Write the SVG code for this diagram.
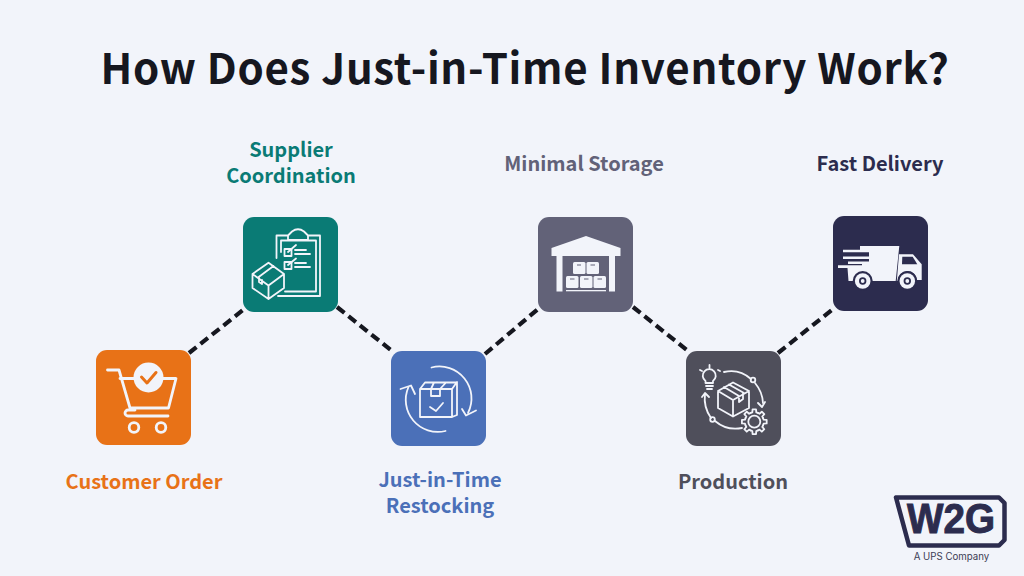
<svg xmlns="http://www.w3.org/2000/svg" width="1024" height="576" viewBox="0 0 1024 576">
<style>
text{font-family:"Noto Sans CJK SC","Noto Sans",sans-serif;font-weight:700;text-anchor:middle}
.lb{font-size:20px}
.box{rx:11px}
.s{fill:none;stroke:#f2f4fa;stroke-width:1.800;stroke-linecap:round;stroke-linejoin:round}
.t{stroke-width:2.800}
.f{fill:#f2f4fa}
.c{fill:none;stroke:#16171f;stroke-width:4.200;stroke-dasharray:9.500 5.200}
</style>
<defs>
<path id="tooth" class="s" d="M-3.640-8.780L-1.980-9.290L-1.740-12.380H1.740L1.980-9.290L3.640-8.780"/>
</defs>
<rect width="1024" height="576" fill="#f2f4fa"/>
<text id="title" x="525" y="83.500" font-size="42" letter-spacing=".7" fill="#16171f">How Does Just-in-Time Inventory Work?</text>
<g id="connectors">
<path class="c" d="M189 353L243 310"/>
<path class="c" d="M337 307L392 351"/>
<path class="c" d="M485 354L538 309"/>
<path class="c" d="M633 307L688 351"/>
<path class="c" d="M778 353L833 309"/>
</g>
<g id="customer-order">
<rect class="box" x="96" y="350" width="95" height="95" fill="#e87217"/>
<path class="s t" d="M107.500 370H119L130 408H168.500L176 378.500H120"/>
<path class="s t" d="M168 416H128a3 3 0 0 1 0-6H135"/>
<circle class="s t" cx="134" cy="427.500" r="4.800"/><circle class="s t" cx="161" cy="427.500" r="4.800"/>
<circle class="f" cx="148.500" cy="377.500" r="15"/>
<path fill="none" stroke="#e87217" stroke-width="3" stroke-linecap="round" stroke-linejoin="round" d="M141.500 377L147 383L156 372.500"/>
<text class="lb" x="144" y="489" fill="#e87217">Customer Order</text>
</g>
<g id="supplier-coordination">
<rect class="box" x="243" y="217" width="95" height="95" fill="#0a7b75"/>
<path class="s" d="M276.500 258V235.500H288L292 231.500Q298 227 304 231.500L308 235.500H320V296H278"/>
<path class="s" d="M281 252V240.500H316V291.500H285"/>
<path class="s" d="M288 236V240H308V236"/>
<rect class="s" x="284.500" y="249" width="7" height="7"/><rect class="s" x="284.500" y="262" width="7" height="7"/>
<path class="s" d="M288 252L296 245M288 265L296 258.500M295 250H306M295 254H310M295 263H306M295 267H310"/>
<path class="s" d="M252.500 274L268.500 262.700L284 274V288L268.500 299L252.500 288ZM252.500 274L268.500 285.500L284 274M268.500 285.500V299M258 277.500L273.500 266M262 280V284L259 282V278"/>
<text class="lb" x="291" y="157" fill="#0a7b75">Supplier</text>
<text class="lb" x="291" y="183" fill="#0a7b75">Coordination</text>
</g>
<g id="just-in-time-restocking">
<rect class="box" x="391" y="351" width="95" height="95" fill="#4b70b8"/>
<path class="s" d="M431.500 367.500A32 32 0 0 1 468 413M445.500 431A32 32 0 0 1 408.500 387"/>
<path class="s" d="M462 409L466 415.500L476 410.500M400.500 389L411 385.500L415 394"/>
<path class="s" d="M420 389H452L457 382V415L452 417H420ZM420 389L425 382.500H457M452 389V417M431 389V396H440V389M434 382.500L431 389M446 382.500L440 389"/>
<path class="s" d="M430 407L436 411L443 403" stroke-width="2"/>
<text class="lb" x="440" y="487" fill="#4b70b8">Just-in-Time</text>
<text class="lb" x="440" y="513" fill="#4b70b8">Restocking</text>
</g>
<g id="minimal-storage">
<rect class="box" x="538" y="217" width="95" height="95" fill="#626278"/>
<path class="f" d="M551.500 248L586 236L620.500 248V256H615V291.500H609V256H562.500V291.500H556.500V256H551.500Z"/>
<g class="f">
<rect x="573" y="262" width="12.500" height="12" rx="1.500"/><rect x="586.500" y="262" width="12.500" height="12" rx="1.500"/>
<rect x="566" y="276" width="12.500" height="12" rx="1.500"/><rect x="580" y="276" width="12.500" height="12" rx="1.500"/><rect x="593.500" y="276" width="12.500" height="12" rx="1.500"/>
<rect x="566" y="290" width="40" height="1.300"/>
</g>
<path stroke="#626278" stroke-width="1" d="M577 265H581M590.500 265H595M570 279H574.500M584 279H588.500M597.500 279H602"/>
<text class="lb" x="584" y="171" fill="#626278">Minimal Storage</text>
</g>
<g id="production">
<rect class="box" x="686" y="351" width="95" height="95" fill="#4f4f5b"/>
<path class="s" d="M724 372A30 30 0 0 1 751 379M755 383A34 34 0 0 1 763 403M742 428A32 32 0 0 1 715 421M711 418A34 34 0 0 1 705 394"/>
<circle class="s" cx="753" cy="380" r="2.300"/><circle class="s" cx="712.500" cy="419.500" r="2.300"/>
<path class="s" d="M758 403L762 407L765 402M702 397L705 393L709 397"/>
<path class="s" d="M718 391L733 382.500L749 391V408L733 416.500L718 408ZM718 391L733 400L749 391M733 400V416.500M724 387L739 396M729 384.500L744 393M739 396V402L743 399V393"/>
<path class="s" d="M705.500 383V381A6.500 6.500 0 1 1 713 381V383ZM706 386H713M707 389H712M709.500 365V368M700 370L702 371M718 370L720 371"/>
<circle class="s" cx="754.300" cy="421.700" r="6"/>
<g transform="translate(754.300 421.700)">
<use href="#tooth"/><use href="#tooth" transform="rotate(45)"/><use href="#tooth" transform="rotate(90)"/><use href="#tooth" transform="rotate(135)"/><use href="#tooth" transform="rotate(180)"/><use href="#tooth" transform="rotate(225)"/><use href="#tooth" transform="rotate(270)"/><use href="#tooth" transform="rotate(315)"/>
</g>
<text class="lb" x="733" y="489" fill="#4f4f5b">Production</text>
</g>
<g id="fast-delivery">
<rect class="box" x="833" y="216" width="95" height="95" fill="#2c2c4e"/>
<path class="f" d="M860 246H899.300L895.700 281H848.500L847.500 268H838V265.300H862V264H848V261.600H869V259H843V256.400H869V252.200H843V249.800H860Z"/>
<path class="f" d="M899 254.300H913L921.700 264.300V280H917A9.500 9.500 0 0 0 898 281H896.800Z"/>
<path fill="#2c2c4e" d="M902.300 256.700H912.700L917.300 264.300H902Z"/>
<circle cx="862.700" cy="281" r="10" fill="#2c2c4e"/><circle cx="907.300" cy="281" r="10" fill="#2c2c4e"/>
<circle class="f" cx="862.700" cy="281" r="7.800"/><circle cx="862.700" cy="281" r="2.800" fill="none" stroke="#2c2c4e" stroke-width="1.800"/>
<circle class="f" cx="907.300" cy="281" r="7.800"/><circle cx="907.300" cy="281" r="2.800" fill="none" stroke="#2c2c4e" stroke-width="1.800"/>
<text class="lb" x="880" y="171" fill="#2c2c4e">Fast Delivery</text>
</g>
<g id="logo">
<path fill="none" stroke="#2c2c4e" stroke-width="4.500" stroke-linejoin="round" d="M896 497.500H999L1004.500 503V540L999 545.500H909Z"/>
<text x="951" y="533" font-size="42" fill="#2c2c4e" style="font-weight:700;font-family:'Liberation Sans',sans-serif" stroke="#2c2c4e" stroke-width="1" textLength="88" lengthAdjust="spacingAndGlyphs">W2G</text>
<text x="951.500" y="560" font-size="9.700" fill="#3c3c55" style="font-weight:400;font-family:Inter,sans-serif">A UPS Company</text>
</g>
</svg>
